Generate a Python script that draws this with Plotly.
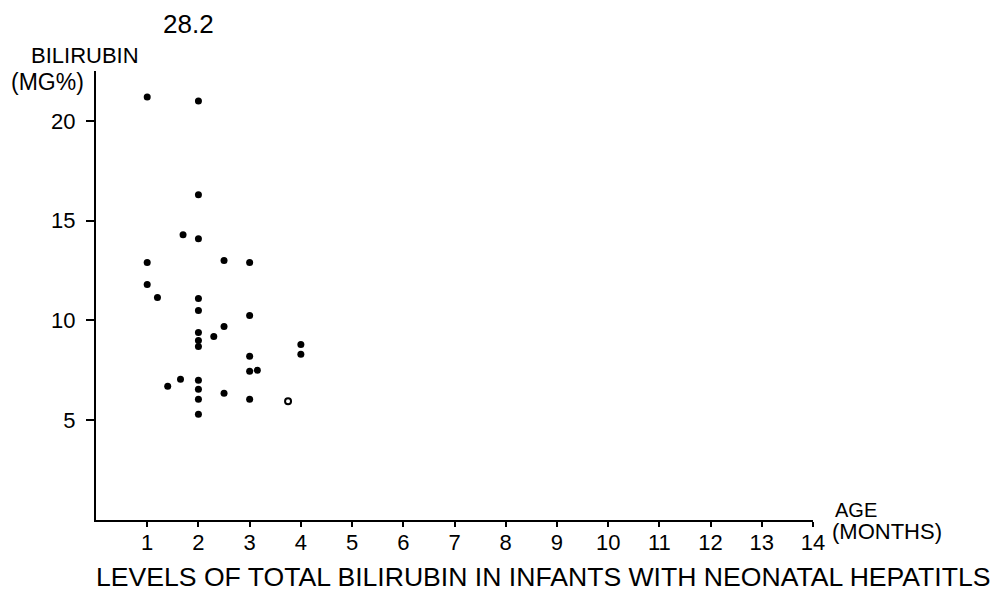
import plotly.graph_objects as go

# Data (age in months, total bilirubin in mg%)
age_months = [1, 2, 2, 1.7, 2, 1, 2.5, 3, 1, 1.2, 2, 2, 3, 2.5, 2, 2.3, 2, 2,
              4, 4, 3, 3, 3.15, 1.65, 2, 1.4, 2, 2.5, 2, 3, 2]
bilirubin = [21.2, 21.0, 16.3, 14.3, 14.1, 12.9, 13.0, 12.9, 11.8, 11.15, 11.1,
             10.5, 10.25, 9.7, 9.4, 9.2, 9.0, 8.7, 8.8, 8.3, 8.2, 7.45, 7.5,
             7.05, 7.0, 6.7, 6.55, 6.35, 6.05, 6.05, 5.3]
open_age = [3.75]
open_bili = [5.95]
offscale_label = "28.2"
offscale_age = 1.8

x_ticks = list(range(1, 15))
y_ticks = [5, 10, 15, 20]

FONT = "Liberation Sans"

# page has an 8px body margin; plot area in page pixels: x 96..813, y 71..520
PL, PR, PT, PB = 96, 813, 71, 520

fig = go.Figure()
fig.add_trace(go.Scatter(x=age_months, y=bilirubin, mode="markers",
                         marker=dict(color="black", size=7, symbol="circle"),
                         showlegend=False))
fig.add_trace(go.Scatter(x=open_age, y=open_bili, mode="markers",
                         marker=dict(color="black", size=6, symbol="circle-open",
                                     line=dict(width=2, color="black")),
                         showlegend=False))

fig.update_layout(
    width=991, height=584,
    margin=dict(l=PL - 8, r=991 - (PR - 8), t=PT - 8, b=584 - (PB - 8)),
    paper_bgcolor="white", plot_bgcolor="white",
    font=dict(family=FONT, color="black", size=21),
    xaxis=dict(range=[0, 14], tickvals=x_ticks, ticktext=[str(t) for t in x_ticks],
               showline=True, linecolor="black", linewidth=2, showgrid=False,
               zeroline=False, ticks="outside", ticklen=5, tickwidth=1.5,
               tickcolor="black", tickfont=dict(size=22, family=FONT),
               ticklabelstandoff=-3),
    yaxis=dict(range=[0, 22.5], tickvals=y_ticks, ticktext=[str(t) for t in y_ticks],
               showline=True, linecolor="black", linewidth=2, showgrid=False,
               zeroline=False, ticks="outside", ticklen=8, tickwidth=1.5,
               tickcolor="black", tickfont=dict(size=22, family=FONT),
               ticklabelstandoff=6),
)


def py(p):
    return (PB - p) / (PB - PT)


def px(p):
    return (p - PL) / (PR - PL)


fig.add_annotation(text=offscale_label, x=offscale_age, xref="x",
                   y=py(23.5), yref="paper", showarrow=False,
                   font=dict(size=26), xanchor="center", yanchor="middle")
fig.add_annotation(text="BILIRUBIN", x=px(29), xref="paper",
                   y=py(55.5), yref="paper", showarrow=False,
                   font=dict(size=22), xanchor="left", yanchor="middle")
fig.add_annotation(text="(MG%)", x=px(9), xref="paper",
                   y=py(81.5), yref="paper", showarrow=False,
                   font=dict(size=23), xanchor="left", yanchor="middle")
fig.add_annotation(text="AGE", x=px(833), xref="paper",
                   y=py(510), yref="paper", showarrow=False,
                   font=dict(size=20), xanchor="left", yanchor="middle")
fig.add_annotation(text="(MONTHS)", x=px(830), xref="paper",
                   y=py(531), yref="paper", showarrow=False,
                   font=dict(size=22), xanchor="left", yanchor="middle")
fig.add_annotation(text="LEVELS OF TOTAL BILIRUBIN IN INFANTS WITH NEONATAL HEPATITLS",
                   x=px(94), xref="paper",
                   y=py(577), yref="paper", showarrow=False,
                   font=dict(size=26.6), xanchor="left", yanchor="middle")

fig.write_html("out.html")
